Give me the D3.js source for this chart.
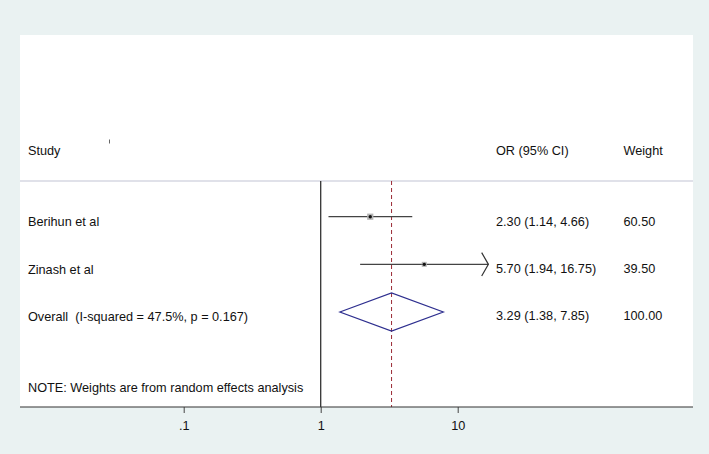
<!DOCTYPE html>
<html><head><meta charset="utf-8">
<script src="https://cdn.jsdelivr.net/npm/d3@7"></script>
<style>
html,body{margin:0;padding:0;background:#eaf2f2;}
svg{display:block;}
text{font-family:"Liberation Sans",Arial,Helvetica,sans-serif;fill:#111;white-space:pre;}
</style></head>
<body>
<svg id="chart" width="709" height="454"></svg>
<script>
const studies   = ["Berihun et al", "Zinash et al"];
const orValues  = [2.30, 5.70];
const ciLow     = [1.14, 1.94];
const ciHigh    = [4.66, 16.75];
const weights   = [60.50, 39.50];
const overallLabel = "Overall  (I-squared = 47.5%, p = 0.167)";
const overallOR = 3.29, overallLow = 1.38, overallHigh = 7.85, overallWeight = 100.00;
const tickValues = [0.1, 1, 10];
const tickLabels = [".1", "1", "10"];
const headers = ["Study", "OR (95% CI)", "Weight"];
const note = "NOTE: Weights are from random effects analysis";
const arrowLimit = 10;

const W = 709, H = 454;
const plotL = 20, plotR = 693, plotT = 35, axisY = 407, sepY = 181;
const fs = 12.7;
const svg = d3.select("#chart");

// white plot region
svg.append("rect").attr("x", plotL).attr("y", plotT).attr("width", plotR - plotL).attr("height", axisY - plotT).attr("fill", "#fff");

const x = d3.scaleLog().domain([0.1, 10]).range([183.7, 457.7]);
const yRow = d3.scaleLinear().domain([0, 2]).range([216.7, 312]);

// header
svg.append("text").attr("x", 28).attr("y", 155.2).attr("font-size", fs).text(headers[0]);
svg.append("text").attr("x", 496).attr("y", 154.8).attr("font-size", fs).text(headers[1]);
svg.append("text").attr("x", 623.5).attr("y", 154.8).attr("font-size", fs).text(headers[2]);
svg.append("line").attr("x1", 109.5).attr("x2", 109.5).attr("y1", 139.5).attr("y2", 143.5).attr("stroke", "#666").attr("stroke-width", 1);

// separator
svg.append("line").attr("x1", plotL).attr("x2", plotR).attr("y1", sepY).attr("y2", sepY).attr("stroke", "#d6d7e2").attr("stroke-width", 1.6);

// null line
svg.append("line").attr("x1", x(1)).attr("x2", x(1)).attr("y1", sepY).attr("y2", axisY).attr("stroke", "#333").attr("stroke-width", 1.3);

// overall dashed line
svg.append("line").attr("x1", x(overallOR)).attr("x2", x(overallOR)).attr("y1", sepY).attr("y2", axisY)
  .attr("stroke", "#9b2a35").attr("stroke-width", 1).attr("stroke-dasharray", "4,3");

// studies
const maxW = d3.max(weights);
studies.forEach((s, i) => {
  const y = yRow(i);
  svg.append("line").attr("x1", x(ciLow[i])).attr("x2", x(ciHigh[i])).attr("y1", y).attr("y2", y)
    .attr("stroke", "#444").attr("stroke-width", 1.3);
  if (ciHigh[i] > arrowLimit) {
    const tx = x(ciHigh[i]);
    svg.append("path").attr("d", `M${tx - 6.7},${y - 11.7}L${tx},${y}L${tx - 6.7},${y + 11.7}`)
      .attr("fill", "none").attr("stroke", "#333").attr("stroke-width", 1.2);
  }
  const bs = 6.2 * Math.sqrt(weights[i] / maxW);
  svg.append("rect").attr("x", x(orValues[i]) - bs / 2).attr("y", y - bs / 2).attr("width", bs).attr("height", bs)
    .attr("fill", "#b4b4b4");
  svg.append("circle").attr("cx", x(orValues[i])).attr("cy", y).attr("r", 1.7).attr("fill", "#111");
  svg.append("text").attr("x", 28).attr("y", y + 9.6 - (i === 1 ? 0.3 : 0)).attr("font-size", fs).text(s);
  svg.append("text").attr("x", 496).attr("y", y + 9).attr("font-size", fs)
    .text(`${orValues[i].toFixed(2)} (${ciLow[i].toFixed(2)}, ${ciHigh[i].toFixed(2)})`);
  svg.append("text").attr("x", 623.5).attr("y", y + 9).attr("font-size", fs).text(weights[i].toFixed(2));
});

// overall diamond
const yo = yRow(2), dh = 19;
svg.append("path")
  .attr("d", `M${x(overallLow)},${yo}L${x(overallOR)},${yo - dh}L${x(overallHigh)},${yo}L${x(overallOR)},${yo + dh}Z`)
  .attr("fill", "none").attr("stroke", "#2e2f8f").attr("stroke-width", 1.2);
svg.append("text").attr("x", 28).attr("y", yo + 9.2).attr("font-size", fs).text(overallLabel);
svg.append("text").attr("x", 496).attr("y", yo + 7.8).attr("font-size", fs)
  .text(`${overallOR.toFixed(2)} (${overallLow.toFixed(2)}, ${overallHigh.toFixed(2)})`);
svg.append("text").attr("x", 623.5).attr("y", yo + 7.8).attr("font-size", fs).text(overallWeight.toFixed(2));

// note
svg.append("text").attr("x", 28).attr("y", 392.2).attr("font-size", fs).text(note);

// axis
const axis = d3.axisBottom(x).tickValues(tickValues).tickFormat((d, i) => tickLabels[i]).tickSize(6).tickSizeOuter(0).tickPadding(7.5);
const g = svg.append("g").attr("transform", `translate(0,${axisY})`).call(axis);
g.select(".domain").remove();
g.selectAll(".tick line").attr("stroke", "#444").attr("stroke-width", 1);
g.selectAll(".tick text").attr("font-size", fs).attr("font-family", '"Liberation Sans",Arial,sans-serif').attr("fill", "#111");
svg.append("line").attr("x1", plotL).attr("x2", plotR).attr("y1", axisY).attr("y2", axisY).attr("stroke", "#333").attr("stroke-width", 1.2);
</script>
</body></html>
